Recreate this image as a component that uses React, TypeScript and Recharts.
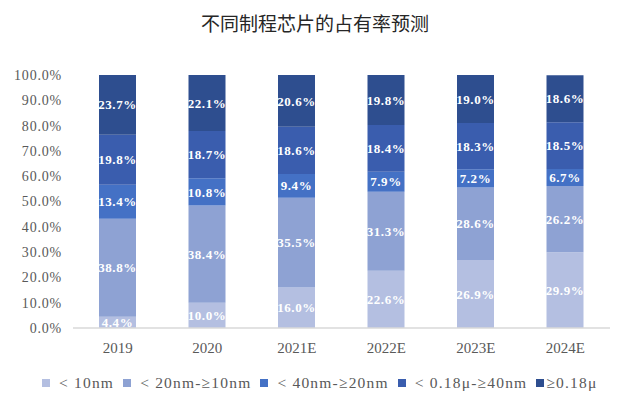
import React from "react"
import { BarChart, Bar, XAxis, YAxis, LabelList } from "recharts"

const years = ["2019", "2020", "2021E", "2022E", "2023E", "2024E"]
const lt10nm = [4.4, 10.0, 16.0, 22.6, 26.9, 29.9]
const lt20nm = [38.8, 38.4, 35.5, 31.3, 28.6, 26.2]
const lt40nm = [13.4, 10.8, 9.4, 7.9, 7.2, 6.7]
const lt018u = [19.8, 18.7, 18.6, 18.4, 18.3, 18.5]
const ge018u = [23.7, 22.1, 20.6, 19.8, 19.0, 18.6]
const yTicks = [0, 10, 20, 30, 40, 50, 60, 70, 80, 90, 100]

const series = [
  { key: "lt10nm", name: "< 10nm", color: "#b4bfe1" },
  { key: "lt20nm", name: "< 20nm-≥10nm", color: "#8ea2d3" },
  { key: "lt40nm", name: "< 40nm-≥20nm", color: "#4471c5" },
  { key: "lt018u", name: "< 0.18μ-≥40nm", color: "#3a5dae" },
  { key: "ge018u", name: "≥0.18μ", color: "#2e4e8f" },
]

const data = years.map((year, i) => ({
  year,
  lt10nm: lt10nm[i],
  lt20nm: lt20nm[i],
  lt40nm: lt40nm[i],
  lt018u: lt018u[i],
  ge018u: ge018u[i],
}))

const serif = "Liberation Serif, Times New Roman, serif"

export default function App() {
  return (
    <div style={{ position: "relative", width: 621, height: 400, margin: -8, background: "#fff" }}>
      <div
        style={{
          position: "absolute",
          top: 13,
          left: 0,
          width: 630,
          textAlign: "center",
          fontFamily: "'Noto Sans CJK SC', sans-serif",
          fontSize: 19,
          lineHeight: "20px",
          color: "#262626",
        }}
      >
        不同制程芯片的占有率预测
      </div>

      <BarChart
        width={621}
        height={400}
        data={data}
        margin={{ top: 75, right: 11, bottom: 42, left: 0 }}
      >
        <XAxis
          dataKey="year"
          height={30}
          tickLine={false}
          tickSize={0}
          tickMargin={14}
          axisLine={{ stroke: "#d9d9d9", strokeWidth: 1.5 }}
          tick={{ fontSize: 15, fill: "#595959", fontFamily: serif }}
        />
        <YAxis
          width={73}
          domain={[0, 100]}
          ticks={yTicks}
          allowDataOverflow
          axisLine={false}
          tickLine={false}
          tickSize={0}
          tickMargin={11}
          tickFormatter={(v: number) => `${v.toFixed(1)}%`}
          tick={{ fontSize: 14, fill: "#595959", fontFamily: serif, letterSpacing: 0.8 }}
        />
        {series.map((s) => (
          <Bar
            key={s.key}
            dataKey={s.key}
            name={s.name}
            stackId="share"
            fill={s.color}
            barSize={37}
            isAnimationActive={false}
          >
            <LabelList
              dataKey={s.key}
              position="center"
              fill="#ffffff"
              fontSize={13}
              fontWeight="bold"
              fontFamily={serif}
              letterSpacing={0.6}
              formatter={(v: unknown) => `${Number(v).toFixed(1)}%`}
            />
          </Bar>
        ))}
      </BarChart>

      <div
        style={{
          position: "absolute",
          top: 374,
          left: 42,
          display: "flex",
          alignItems: "center",
          fontFamily: serif,
          fontSize: 15.5,
          letterSpacing: 1.2,
          lineHeight: "18px",
          color: "#595959",
          whiteSpace: "nowrap",
        }}
      >
        {series.map((s, i) => (
          <div
            key={s.key}
            style={{ display: "flex", alignItems: "center", marginRight: i < series.length - 1 ? 9 : 0 }}
          >
            <span
              style={{
                display: "inline-block",
                width: 8,
                height: 8,
                background: s.color,
                marginRight: i < series.length - 1 ? 9 : 2,
              }}
            />
            <span>{s.name}</span>
          </div>
        ))}
      </div>
    </div>
  )
}
